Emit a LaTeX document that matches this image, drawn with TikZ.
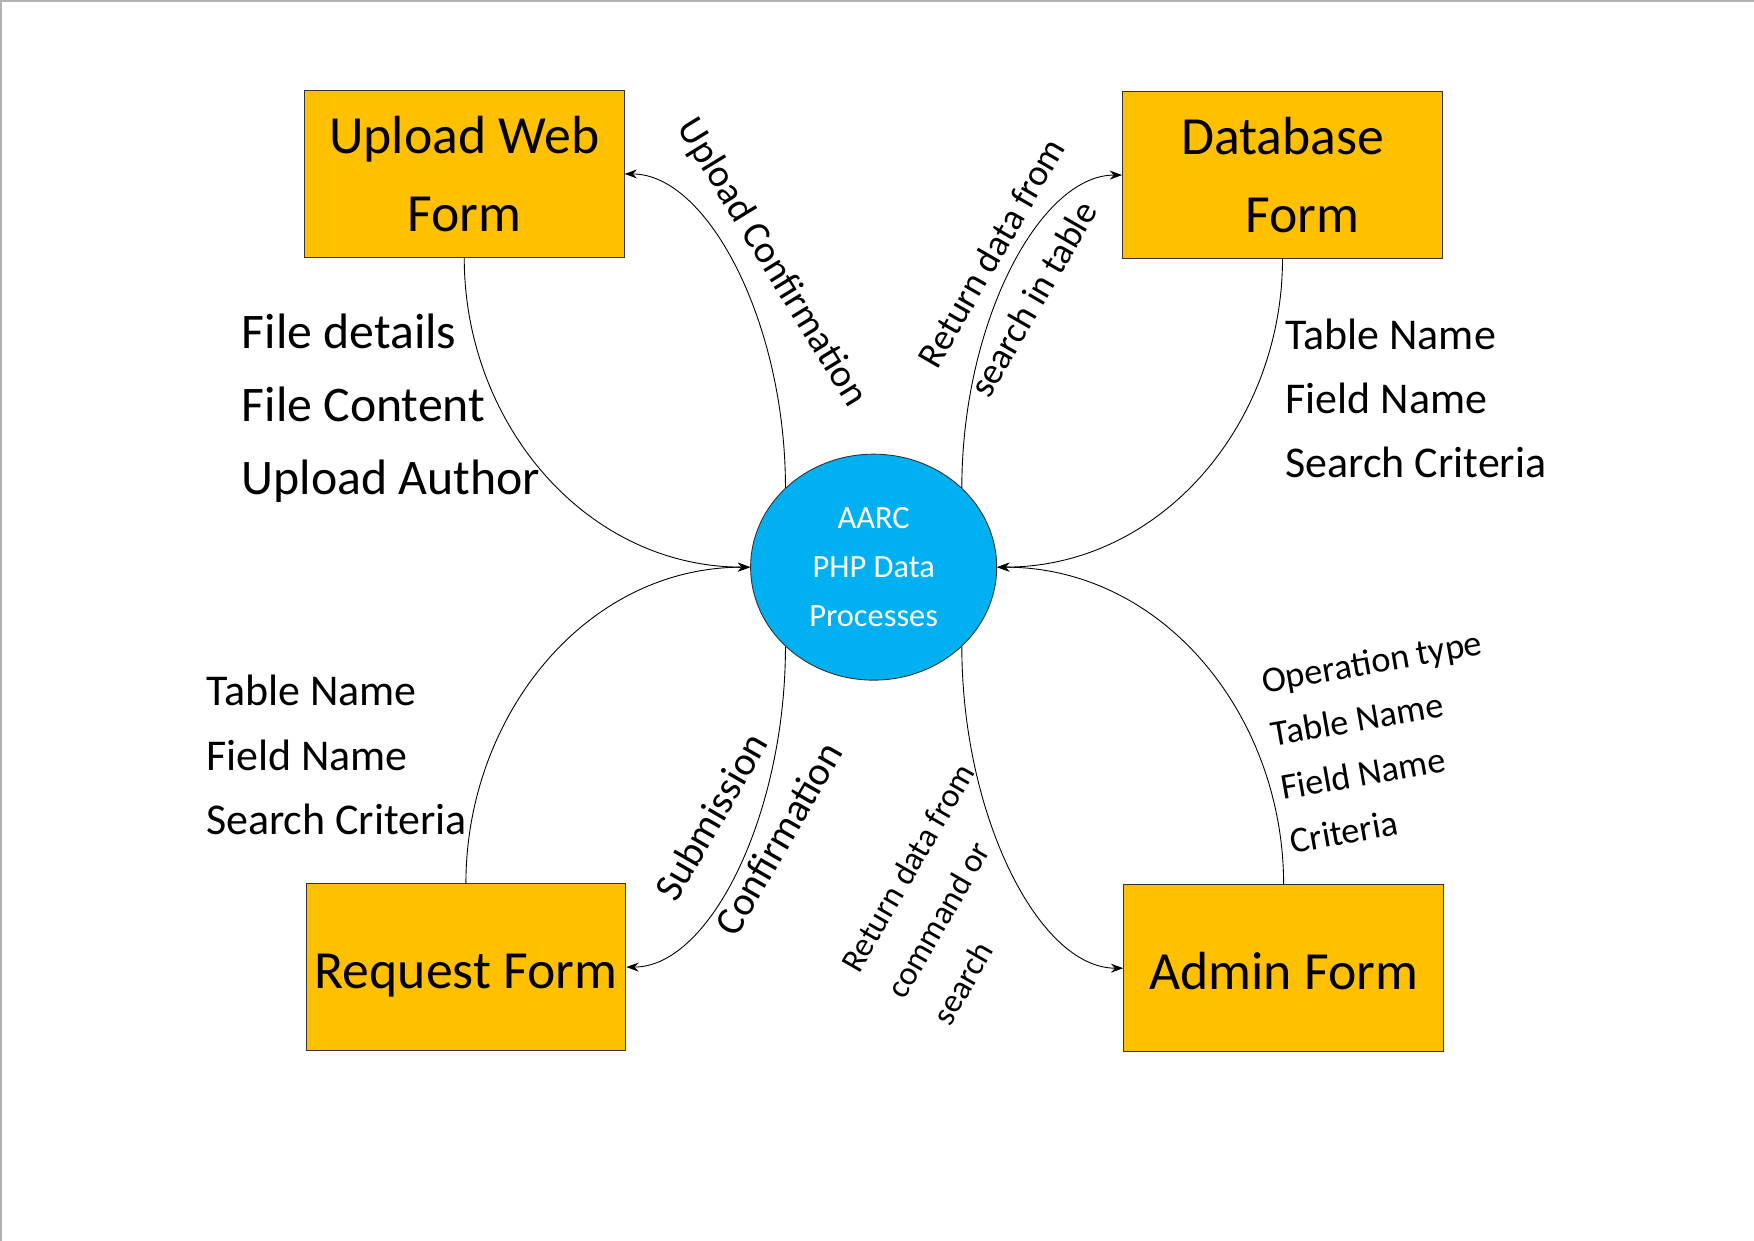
\documentclass[tikz,border=0pt]{standalone}
\usepackage{fontspec}
\setmainfont{Carlito}
\usetikzlibrary{shapes.geometric,arrows.meta}
\definecolor{boxfill}{HTML}{FFC000}
\definecolor{procfill}{HTML}{00B0F0}
\begin{document}
\begin{tikzpicture}[x=1pt,y=1pt,
  box/.style={draw=black!80, line width=0.8pt, fill=boxfill, minimum width=286pt, minimum height=149pt, inner sep=0pt, align=center, font=\fontsize{48}{70}\selectfont},
  onebox/.style={box, text height=38pt, text depth=0pt},
  proc/.style={ellipse, draw=black!80, line width=0.8pt, fill=procfill, minimum width=220pt, minimum height=202pt, inner sep=0pt, align=center, text=white, font=\fontsize{29}{44}\selectfont},
  flow/.style={draw, line width=0.8pt, -{Stealth[length=11pt,width=8pt]}},
  sharpflow/.style={flow, out looseness=1.2, in looseness=0.6},
  lblbig/.style={inner sep=0pt, align=left, font=\fontsize{44.5}{65}\selectfont},
  lbl/.style={inner sep=0pt, align=left, font=\fontsize{39.3}{57.5}\selectfont},
  rlbl/.style={inner sep=0pt, align=left, font=\fontsize{33}{53}\selectfont},
  slbl/.style={inner sep=0pt, align=left, font=\fontsize{32.5}{48.5}\selectfont}
]
\useasboundingbox (0,0) rectangle (1568,-1109);
\draw[gray!60, line width=1.5pt] (1,-1109) -- (1,-1) -- (1568,-1);

\node[box] (up) at (415,-155.5) {Upload Web\\Form};
\node[box] (db) at (1146.5,-156.5) {Database\\\hspace*{36pt}Form};
\node[onebox] (rq) at (416.5,-864.5) {Request Form};
\node[onebox] (ad) at (1147.5,-865.5) {Admin Form};
\node[proc] (c) at (781,-507) {AARC\\PHP Data\\Processes};

\draw[flow] (up.south) to[out=-90,in=180] (c.west);
\draw[sharpflow] (c.138) to[out=90,in=0] (up.east);
\draw[sharpflow] (c.42) to[out=90,in=180] (db.west);
\draw[flow] (db.south) to[out=-90,in=0] (c.east);
\draw[flow] (rq.north) to[out=90,in=180] (c.west);
\draw[sharpflow] (c.-138) to[out=-90,in=0] (rq.east);
\draw[sharpflow] (c.-42) to[out=-90,in=180] (ad.west);
\draw[flow] (ad.north) to[out=90,in=0] (c.east);

\node[lblbig, anchor=west] (l1) at (216,-365) {File details\\File Content\\Upload Author};
\node[lbl, anchor=west] (l2) at (1149,-356) {Table Name\\Field Name\\Search Criteria};
\node[lbl, anchor=west] (l3) at (184,-675) {Table Name\\Field Name\\Search Criteria};
\node[rlbl, rotate=-58.5, font=\fontsize{34.7}{53}\selectfont] (l4) at (690,-235) {Upload Confirmation};
\node[rlbl, rotate=60] (l5) at (909,-239) {Return data from\\search in table};
\node[rlbl, rotate=60, font=\fontsize{36}{62}\selectfont] (l6) at (669,-734) {Submission\\Confirmation};
\node[rlbl, rotate=60, font=\fontsize{30}{47}\selectfont] (l7) at (852,-799) {Return data from\\command or\\search};
\node[slbl, rotate=10] (l8) at (1239,-663) {Operation type\\Table Name\\Field Name\\Criteria};
\end{tikzpicture}
\end{document}
